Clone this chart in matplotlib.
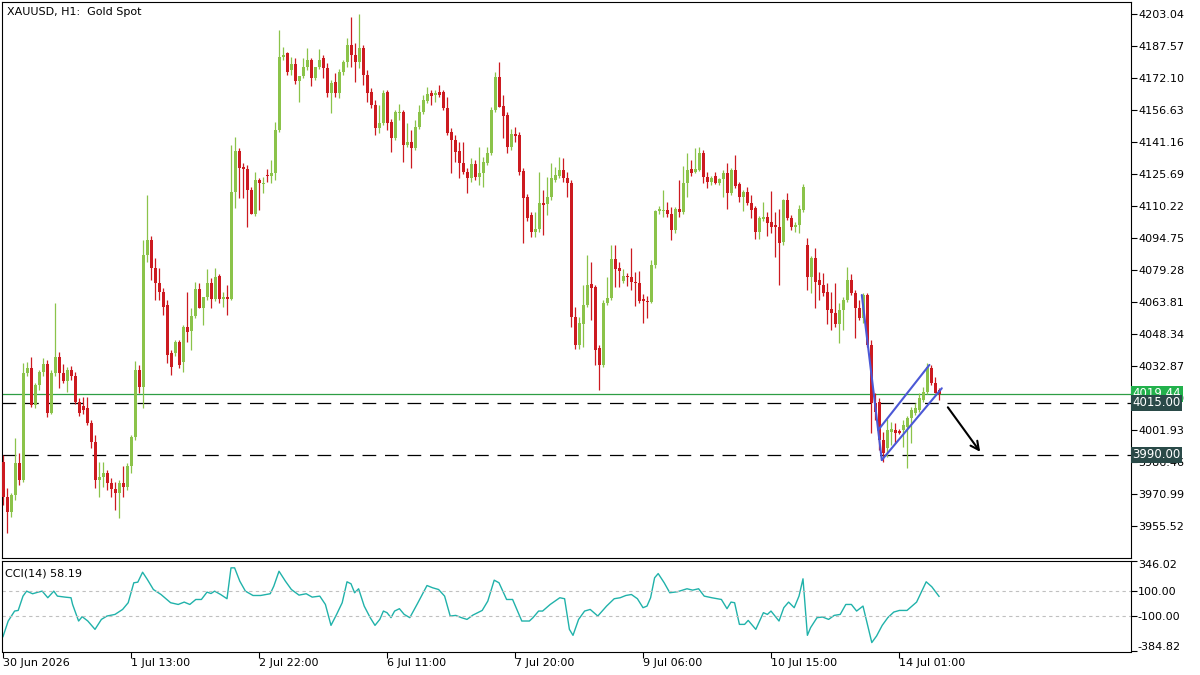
"""XAUUSD H1 candles with a bear-flag sketch and CCI(14) underneath."""
import numpy as np
import matplotlib
matplotlib.use("Agg")
import matplotlib.pyplot as plt

GREEN, RED = "#8BC34A", "#CC1A20"

# ---- candle data, one value per H1 bar ----
opens = [
    3986.5, 3969.5, 3962.3, 3970.5, 3986.0, 3977.8, 4029.5, 4031.9, 4014.0, 4023.7,
    4030.0, 4033.8, 4010.1, 4029.5, 4037.2, 4029.5, 4025.6, 4030.9, 4028.0, 4015.5,
    4013.5, 4012.6, 4005.3, 3996.1, 3977.8, 3979.2, 3981.1, 3976.3, 3973.4, 3971.5,
    3976.3, 3974.4, 3984.5, 3998.6, 4030.9, 4022.7, 4086.5, 4093.8, 4080.3, 4073.0,
    4068.6, 4062.4, 4039.1, 4039.1, 4044.5, 4034.8, 4051.7, 4049.8, 4057.0, 4070.1,
    4060.9, 4066.2, 4073.0, 4065.3, 4076.4, 4065.3, 4066.2, 4065.3, 4117.0, 4136.8,
    4129.1, 4128.1, 4117.9, 4106.4, 4122.8, 4120.8, 4125.2, 4124.7, 4126.2, 4147.0,
    4182.3, 4184.2, 4176.0, 4178.9, 4170.6, 4173.1, 4177.4, 4180.8, 4172.1, 4177.4,
    4181.8, 4176.9, 4164.8, 4170.2, 4164.8, 4175.0, 4179.8, 4188.1, 4183.2, 4179.8,
    4186.6, 4173.6, 4165.3, 4159.0, 4147.9, 4150.3, 4165.3, 4150.8, 4143.1, 4155.2,
    4155.7, 4139.7, 4141.2, 4138.3, 4148.4, 4155.7, 4161.0, 4164.8, 4163.9, 4165.3,
    4165.3, 4157.6, 4146.0, 4142.1, 4136.8, 4131.0, 4126.7, 4123.7, 4130.5, 4124.2,
    4126.2, 4131.0, 4135.8, 4156.6, 4172.6, 4158.6, 4154.2, 4138.7, 4145.0, 4144.5,
    4127.1, 4114.6, 4105.9, 4097.6, 4099.1, 4111.7, 4111.2, 4114.6, 4122.8, 4124.7,
    4127.6, 4123.7, 4121.3, 4056.6, 4043.0, 4053.2, 4062.4, 4072.5, 4071.1, 4041.6,
    4033.4, 4063.3, 4065.7, 4084.6, 4080.3, 4074.0, 4076.4, 4075.9, 4073.5, 4073.0,
    4065.3, 4064.3, 4063.8, 4081.7, 4107.8, 4107.8, 4108.3, 4106.4, 4098.6, 4108.8,
    4107.3, 4121.3, 4128.1, 4126.7, 4127.6, 4135.8, 4124.2, 4121.8, 4124.7, 4121.3,
    4123.3, 4126.2, 4116.5, 4127.6, 4120.8, 4114.6, 4117.0, 4111.7, 4109.2, 4097.6,
    4103.9, 4104.9, 4102.5, 4101.0, 4100.1, 4092.8, 4113.1, 4104.4, 4100.1, 4101.0,
    4108.3, 4091.4, 4075.9, 4085.1, 4074.5, 4072.0, 4068.6, 4060.4, 4058.5, 4053.2,
    4060.0, 4064.8, 4074.5, 4068.2, 4060.9, 4056.1, 4067.2, 4043.0, 4015.0, 4015.5,
    3997.1, 3993.2, 4001.0, 4001.9, 4001.4, 4001.9, 4003.4, 4007.7, 4010.1, 4011.6,
    4016.4, 4020.3, 4031.9, 4024.7, 4021.3,
]
highs = [
    3989.8, 3973.9, 3971.5, 3998.1, 3990.8, 4034.3, 4034.8, 4037.2, 4024.7, 4030.9,
    4036.7, 4035.8, 4030.9, 4063.3, 4039.6, 4033.8, 4032.4, 4032.9, 4030.0, 4017.4,
    4017.9, 4017.9, 4006.8, 3999.5, 3986.5, 3986.5, 3982.6, 3978.7, 3976.8, 3977.8,
    3984.5, 3986.0, 3999.5, 4035.3, 4033.3, 4093.8, 4115.5, 4095.7, 4085.1, 4080.3,
    4070.6, 4064.8, 4040.6, 4045.4, 4045.4, 4052.7, 4068.6, 4060.9, 4073.5, 4072.9,
    4066.2, 4079.8, 4075.4, 4080.3, 4077.4, 4068.6, 4072.0, 4139.7, 4143.6, 4138.3,
    4131.0, 4130.0, 4119.4, 4126.7, 4123.8, 4124.2, 4128.1, 4132.5, 4150.8, 4195.3,
    4187.1, 4184.7, 4182.3, 4181.8, 4173.1, 4181.8, 4186.6, 4181.8, 4177.4, 4186.1,
    4183.2, 4179.4, 4171.1, 4174.5, 4176.5, 4180.8, 4191.4, 4201.6, 4189.0, 4203.0,
    4188.1, 4176.0, 4167.3, 4161.5, 4159.0, 4166.3, 4166.3, 4152.3, 4156.6, 4159.5,
    4156.6, 4150.3, 4147.0, 4151.8, 4159.0, 4163.9, 4167.7, 4166.3, 4166.3, 4168.7,
    4166.3, 4162.9, 4147.9, 4144.5, 4141.2, 4141.2, 4128.6, 4133.4, 4132.5, 4138.7,
    4133.9, 4138.7, 4158.1, 4175.0, 4179.8, 4163.9, 4155.7, 4147.4, 4148.4, 4146.0,
    4128.6, 4116.0, 4107.3, 4107.3, 4126.7, 4117.9, 4124.2, 4131.0, 4129.1, 4133.9,
    4133.4, 4126.7, 4122.8, 4061.4, 4056.6, 4072.0, 4086.5, 4083.1, 4072.0, 4043.0,
    4064.8, 4075.9, 4091.4, 4091.4, 4083.1, 4079.8, 4077.8, 4089.9, 4078.3, 4078.8,
    4067.7, 4066.7, 4084.1, 4108.3, 4110.2, 4118.0, 4112.1, 4109.7, 4109.7, 4122.8,
    4129.6, 4135.8, 4132.5, 4138.3, 4138.7, 4137.3, 4126.7, 4124.7, 4126.7, 4123.8,
    4127.6, 4131.0, 4128.6, 4134.9, 4121.8, 4118.0, 4119.4, 4115.5, 4110.2, 4105.4,
    4112.2, 4107.3, 4117.5, 4107.3, 4108.8, 4113.6, 4116.5, 4105.9, 4102.5, 4110.7,
    4120.8, 4094.7, 4086.1, 4089.9, 4078.3, 4077.8, 4073.0, 4068.6, 4073.0, 4063.3,
    4066.2, 4080.7, 4077.4, 4069.6, 4064.8, 4068.2, 4068.2, 4045.4, 4019.8, 4017.4,
    4001.0, 4007.3, 4005.8, 4005.3, 4002.4, 4006.8, 4008.5, 4013.1, 4015.0, 4019.8,
    4022.7, 4034.3, 4033.4, 4027.6, 4022.2,
]
lows = [
    3965.7, 3952.1, 3959.9, 3968.1, 3975.3, 3976.8, 4028.0, 4013.1, 4012.6, 4021.3,
    4028.0, 4008.2, 4009.7, 4028.0, 4022.2, 4024.7, 4020.3, 4026.1, 4014.5, 4008.7,
    4009.7, 4004.4, 3993.2, 3973.9, 3969.5, 3974.4, 3972.9, 3969.5, 3963.3, 3959.4,
    3969.5, 3972.9, 3981.1, 3997.1, 4019.8, 4012.6, 4083.1, 4074.4, 4064.8, 4064.8,
    4057.5, 4034.3, 4028.5, 4037.7, 4031.9, 4030.0, 4044.5, 4040.6, 4056.1, 4060.9,
    4052.7, 4064.8, 4060.9, 4064.3, 4063.3, 4061.4, 4057.5, 4064.8, 4109.2, 4114.1,
    4114.1, 4100.1, 4106.4, 4105.4, 4108.3, 4116.5, 4121.8, 4121.3, 4122.8, 4146.0,
    4180.8, 4173.6, 4173.6, 4169.2, 4160.5, 4172.1, 4176.0, 4168.2, 4171.1, 4176.5,
    4172.1, 4162.9, 4155.2, 4162.9, 4162.4, 4173.6, 4177.4, 4177.4, 4170.2, 4176.9,
    4168.7, 4160.5, 4157.6, 4144.5, 4145.5, 4149.4, 4147.0, 4136.3, 4142.1, 4151.8,
    4131.5, 4138.7, 4128.6, 4137.3, 4147.5, 4154.7, 4160.0, 4159.0, 4160.5, 4162.9,
    4156.6, 4144.5, 4126.2, 4131.5, 4123.7, 4125.7, 4116.5, 4121.8, 4122.8, 4120.4,
    4119.4, 4130.0, 4134.9, 4155.7, 4158.1, 4143.1, 4135.8, 4137.3, 4141.2, 4125.2,
    4092.3, 4103.0, 4095.2, 4095.2, 4097.6, 4096.2, 4105.9, 4113.1, 4121.8, 4123.7,
    4121.8, 4114.6, 4051.7, 4041.1, 4041.1, 4042.0, 4061.4, 4055.1, 4033.4, 4021.3,
    4032.4, 4062.4, 4064.8, 4071.1, 4071.1, 4073.0, 4071.5, 4069.6, 4061.9, 4063.3,
    4053.7, 4056.1, 4063.3, 4080.3, 4106.4, 4104.9, 4104.9, 4093.8, 4097.1, 4104.9,
    4106.4, 4114.6, 4124.7, 4126.2, 4127.1, 4121.3, 4118.9, 4120.4, 4120.8, 4120.4,
    4114.6, 4108.8, 4115.5, 4118.9, 4112.2, 4107.8, 4110.7, 4104.4, 4094.3, 4094.3,
    4103.0, 4095.7, 4097.2, 4085.6, 4072.0, 4091.4, 4103.5, 4098.6, 4097.6, 4097.2,
    4107.3, 4069.6, 4068.2, 4060.9, 4064.8, 4066.7, 4053.2, 4050.3, 4051.7, 4044.0,
    4050.3, 4063.8, 4067.2, 4046.4, 4055.1, 4053.7, 4042.0, 4000.5, 4006.8, 3992.3,
    3986.5, 3988.9, 3994.7, 3995.6, 3999.8, 3993.7, 3983.6, 3995.6, 4009.2, 4010.6,
    4015.5, 4019.3, 4023.7, 4019.8, 4016.4,
]
closes = [
    3969.5, 3962.3, 3970.5, 3986.0, 3977.8, 4029.5, 4031.9, 4014.0, 4023.7, 4030.0,
    4033.8, 4010.1, 4029.5, 4037.2, 4029.5, 4025.6, 4030.9, 4028.0, 4015.5, 4010.1,
    4011.6, 4005.3, 3996.1, 3977.8, 3979.2, 3981.1, 3976.3, 3973.4, 3971.5, 3976.3,
    3974.4, 3984.5, 3998.6, 4030.9, 4022.7, 4086.5, 4093.8, 4080.3, 4073.0, 4068.6,
    4061.4, 4038.2, 4032.4, 4044.5, 4033.3, 4051.7, 4049.3, 4057.0, 4070.1, 4060.9,
    4066.2, 4073.0, 4065.3, 4075.9, 4065.3, 4066.2, 4065.3, 4117.0, 4136.8, 4128.6,
    4128.1, 4117.9, 4106.4, 4122.8, 4121.3, 4121.3, 4124.7, 4126.2, 4147.0, 4182.3,
    4183.2, 4175.0, 4178.9, 4170.6, 4173.1, 4177.4, 4180.8, 4172.1, 4177.4, 4180.8,
    4176.9, 4164.8, 4169.7, 4164.8, 4175.0, 4179.8, 4188.1, 4183.2, 4179.8, 4186.6,
    4173.6, 4164.8, 4159.0, 4147.9, 4150.3, 4164.8, 4150.3, 4143.1, 4155.7, 4155.7,
    4139.7, 4141.2, 4138.3, 4148.4, 4155.7, 4161.5, 4164.4, 4163.4, 4164.8, 4163.9,
    4157.6, 4145.5, 4142.1, 4136.3, 4131.0, 4126.7, 4123.7, 4130.5, 4124.2, 4126.2,
    4131.5, 4135.8, 4156.6, 4172.6, 4158.1, 4153.7, 4138.7, 4145.0, 4144.1, 4126.7,
    4114.1, 4104.4, 4097.6, 4099.1, 4111.7, 4110.7, 4114.6, 4123.7, 4125.2, 4127.6,
    4123.7, 4121.3, 4056.6, 4043.0, 4053.7, 4062.4, 4072.0, 4070.6, 4040.6, 4033.4,
    4063.3, 4065.7, 4084.6, 4079.8, 4078.8, 4076.4, 4075.9, 4073.5, 4073.0, 4064.3,
    4064.3, 4063.8, 4081.7, 4107.8, 4108.8, 4108.3, 4106.4, 4098.6, 4108.8, 4107.3,
    4121.3, 4127.6, 4126.2, 4128.1, 4135.8, 4124.2, 4121.8, 4123.7, 4121.3, 4123.3,
    4126.2, 4116.5, 4127.6, 4119.9, 4114.6, 4117.0, 4111.7, 4108.3, 4097.6, 4104.4,
    4104.9, 4102.0, 4100.1, 4100.1, 4092.3, 4113.1, 4104.4, 4100.1, 4101.0, 4108.8,
    4119.4, 4075.9, 4085.1, 4073.5, 4072.0, 4068.2, 4060.0, 4058.5, 4053.2, 4060.0,
    4064.8, 4074.5, 4068.2, 4060.9, 4056.1, 4067.2, 4043.0, 4015.0, 4010.6, 3997.1,
    3990.8, 4001.9, 4002.4, 4000.5, 4000.5, 4004.4, 4007.7, 4011.6, 4012.6, 4017.4,
    4020.3, 4032.4, 4024.7, 4019.8, 4019.44,
]

# ---- CCI(14) trace, (bar, value) pairs ----
cci_bar = [
    0, 1.3, 2.9, 3.8, 5, 5.9, 7.4, 8.8, 9.8, 11.2,
    12.7, 13.6, 15.5, 17, 17.4, 18.9, 19.8, 21.2, 23, 24.6,
    26, 28, 29.9, 31.3, 32.7, 33.7, 34.9, 36.1, 37.6, 39.5,
    41.9, 43.8, 45.3, 46.7, 48.2, 49.6, 51, 52, 52.9, 54.4,
    56, 57, 57.9, 59.2, 60.6, 62.5, 64.4, 66.8, 67.7, 69,
    70.6, 72.1, 74, 75.8, 77.3, 79.2, 80.6, 82, 83.4, 84.8,
    86, 87, 87.9, 88.9, 90.3, 91.8, 93, 94.2, 95.1, 96,
    97, 97.9, 99.1, 100.3, 101.7, 103.6, 106, 107.4, 108.9, 110.4,
    111.8, 113.2, 114.6, 116, 117.5, 119.8, 121.2, 122.8, 124, 125.9,
    127.4, 129.7, 131.6, 132.5, 133.9, 134.9, 136.8, 139.2, 140.4, 141.6,
    142.5, 143.9, 145.4, 146.8, 148.7, 150.9, 152.8, 154.3, 155.7, 157.1,
    158.6, 160, 161, 161.9, 162.9, 163.8, 165.3, 166.7, 168.6, 171,
    172.4, 173.9, 175.3, 177.2, 179.6, 181, 182, 182.9, 184.1, 185.4,
    186.3, 188.2, 190.1, 191.1, 192, 194, 195.2, 196.4, 197.8, 199,
    200, 201.1, 201.9, 203.5, 204.9, 206.4, 207.8, 209.3, 210.7, 212.1,
    213.4, 215, 217.2, 218.4, 219.8, 221.2, 222.7, 224.1, 226, 228.4,
    230.8, 232.2, 234,
]
cci_val = [
    -265, -140, -60, -55, 60, 100, 79, 92, 100, 47,
    100, 60, 52, 47, -7, -140, -105, -140, -207, -127,
    -100, -87, -47, 7, 167, 172, 252, 193, 113, 73,
    7, -7, 12, -7, 33, 33, 92, 81, 100, 73,
    39, 287, 287, 180, 100, 65, 65, 79, 140, 260,
    180, 113, 68, 79, 52, 60, -7, -175, -87, 7,
    175, 159, 87, 119, -20, -113, -175, -127, -60, -73,
    -113, -60, -41, -87, -113, -1, 145, 127, 113, 60,
    -100, -95, -113, -127, -92, -55, 20, 188, 167, 33,
    33, -140, -140, -113, -60, -60, -7, 47, 39, -207,
    -255, -127, -60, -47, -100, -20, 39, 47, 65, 73,
    39, -33, -20, 47, 207, 241, 167, 87, 95, 119,
    108, 119, 60, 47, 33, -41, 12, 7, -167, -167,
    -135, -207, -73, -87, -60, -140, -33, 12, -33, 60,
    199, -255, -193, -113, -108, -127, -95, -87, -7, -7,
    -60, -20, -313, -260, -175, -113, -68, -55, -55, 12,
    175, 135, 58.19,
]

price_ticks = [4203.04, 4187.57, 4172.10, 4156.63, 4141.16, 4125.69, 4110.22,
               4094.75, 4079.28, 4063.81, 4048.34, 4032.87, 4017.40, 4001.93,
               3986.46, 3970.99, 3955.52]
cci_ticks = [-384.82, -100.0, 100.0, 346.02]
time_ticks = [0, 32, 64, 96, 128, 160, 192, 224]
time_labels = ["30 Jun 2026", "1 Jul 13:00", "2 Jul 22:00", "6 Jul 11:00",
               "7 Jul 20:00", "9 Jul 06:00", "10 Jul 15:00", "14 Jul 01:00"]

last_price = 4019.44
levels = [4015.00, 3990.00]

# flag drawing: pole, upper and lower channel edges, target arrow (bar, price)
pole = [(214.7, 4067.2), (219.7, 3987.4)]
chan_up = [(218.8, 4001.9), (231.6, 4033.4)]
chan_lo = [(219.7, 3987.4), (234.7, 4022.1)]
arrow = [(235.8, 4014.0), (244.7, 3990.3)]

o, h, l, c = (np.array(v) for v in (opens, highs, lows, closes))
x = np.arange(len(c))
XL = (-0.25, 282.0)

fig = plt.figure(figsize=(12, 6.75), dpi=100)
ax = fig.add_axes([2 / 1200, 1 - 558 / 675, 1129 / 1200, 556 / 675])
ax2 = fig.add_axes([2 / 1200, 1 - 651.5 / 675, 1129 / 1200, 91 / 675])

# ---- price panel ----
col = np.where(c >= o, GREEN, RED)
ax.vlines(x, np.minimum(l, np.minimum(o, c)), np.maximum(h, np.maximum(o, c)),
          colors=col, lw=0.9, zorder=2)
ax.bar(x, np.maximum(np.abs(c - o), 0.6), bottom=np.minimum(o, c),
       width=0.75, color=col, lw=0, zorder=3, antialiased=False)

ax.axhline(last_price, color="#2E9E44", lw=0.9, zorder=1)
for lv in levels:
    ax.axhline(lv, color="black", lw=0.9, ls=(0, (11, 7)), zorder=1)

for seg in (pole, chan_up, chan_lo):
    (x0, y0), (x1, y1) = seg
    ax.plot([x0, x1], [y0, y1], color="#4B58D6", lw=1.5, zorder=4,
            solid_capstyle="round")
ax.annotate("", xy=arrow[1], xytext=arrow[0],
            arrowprops=dict(arrowstyle="->", color="black", lw=1.5,
                            mutation_scale=15))

ax.set_xlim(*XL)
ax.set_ylim(3940.05, 4208.84)
ax.set_xticks([])
ax.yaxis.tick_right()
ax.set_yticks(price_ticks)
ax.set_yticklabels([f"{t:.2f}" for t in price_ticks])
ax.tick_params(axis="y", direction="out", length=4, width=0.8, labelsize=8,
               pad=1, colors="black")
for sp in ax.spines.values():
    sp.set_linewidth(0.8)
ax.text(5 / 1129, 1 - 10 / 556, "XAUUSD, H1:  Gold Spot", transform=ax.transAxes,
        va="center", ha="left", fontsize=8)


def price_box(y, txt, fc, z):
    ax.annotate(txt, xy=(1, y), xycoords=("axes fraction", "data"),
                xytext=(1.2, 0), textcoords="offset points", va="center",
                ha="left", fontsize=8.5, color="white", zorder=z,
                bbox=dict(boxstyle="square,pad=0.12", fc=fc, ec="none"))


price_box(last_price, f"{last_price:.2f}", "#22B14C", 6)
price_box(levels[0], f"{levels[0]:.2f}", "#2A4A48", 7)
price_box(levels[1], f"{levels[1]:.2f}", "#2A4A48", 7)

# ---- CCI panel ----
ax2.plot(cci_bar, cci_val, color="#20B2AA", lw=1.0)
for lv in (100, -100):
    ax2.axhline(lv, color="#C0C0C0", lw=0.8, ls=(0, (3, 3)))
ax2.set_xlim(*XL)
ax2.set_ylim(-384.82, 346.02)
ax2.yaxis.tick_right()
ax2.set_yticks(cci_ticks)
ax2.set_yticklabels([f"{t:.2f}" for t in cci_ticks])
yl = ax2.get_yticklabels()
yl[0].set_va("bottom")
yl[-1].set_va("top")
ax2.tick_params(axis="y", direction="out", length=4, width=0.8, labelsize=8,
                pad=1)
ax2.set_xticks(time_ticks)
ax2.set_xticklabels(time_labels)
for lb in ax2.get_xticklabels():
    lb.set_ha("left")
ax2.tick_params(axis="x", direction="out", length=4, width=0.8, labelsize=8,
                pad=1)
for sp in ax2.spines.values():
    sp.set_linewidth(0.8)
ax2.text(3 / 1129, 0.86, "CCI(14) 58.19", transform=ax2.transAxes,
         va="center", ha="left", fontsize=8)

fig.savefig("out.png", dpi=100)
print("wrote out.png", len(c), "bars")
